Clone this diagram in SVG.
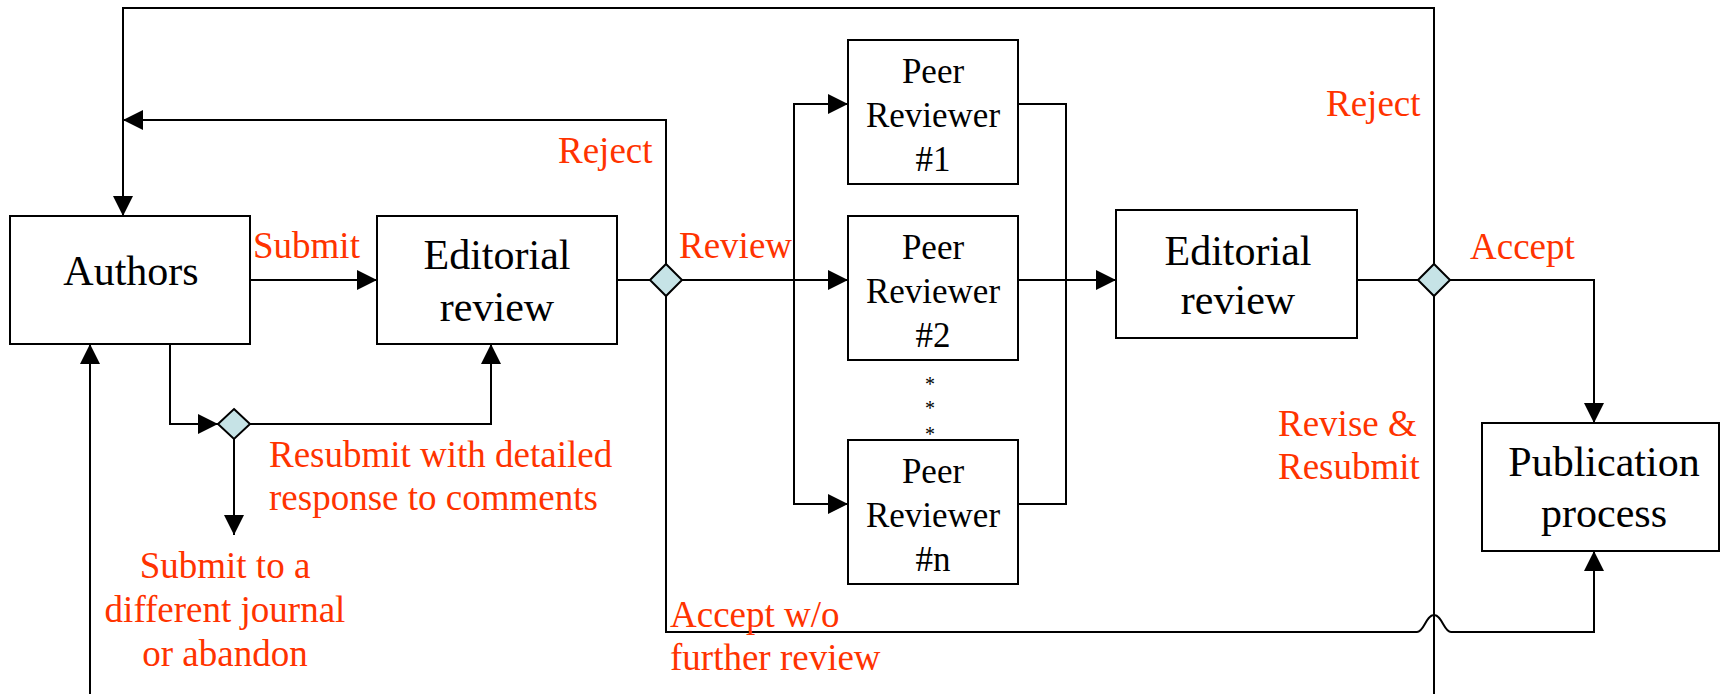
<svg xmlns="http://www.w3.org/2000/svg" width="1721" height="694" viewBox="0 0 1721 694">
<style>
.box{fill:#fff;stroke:#000;stroke-width:2}
.dia{fill:#c6e3e6;stroke:#000;stroke-width:2}
.ln{fill:none;stroke:#000;stroke-width:2}
.t{font-family:"Liberation Serif","Times New Roman",serif;fill:#000}
.big{font-size:42px;text-anchor:middle}
.peer{font-size:35px;text-anchor:middle}
.red{font-family:"Liberation Serif","Times New Roman",serif;fill:#ff3300;font-size:37px}
.ast{font-size:20px;text-anchor:middle}
</style>
<defs>
<marker id="ah" markerUnits="userSpaceOnUse" markerWidth="20" markerHeight="20" viewBox="0 0 20 20" refX="20" refY="10" orient="auto">
<path d="M0,0 L20,10 L0,20 z" fill="#000"/>
</marker>
</defs>
<rect width="1721" height="694" fill="#fff"/>
<g id="connectors">
<path class="ln" d="M1434,264 V8 H123 V216" marker-end="url(#ah)"/>
<path class="ln" d="M666,264 V120 H123" marker-end="url(#ah)"/>
<path class="ln" d="M250,280 H377" marker-end="url(#ah)"/>
<path class="ln" d="M617,280 H650"/>
<path class="ln" d="M682,280 H848" marker-end="url(#ah)"/>
<path class="ln" d="M794,280 V104 H848" marker-end="url(#ah)"/>
<path class="ln" d="M794,280 V504 H848" marker-end="url(#ah)"/>
<path class="ln" d="M1018,104 H1066 V504 H1018"/>
<path class="ln" d="M1018,280 H1116" marker-end="url(#ah)"/>
<path class="ln" d="M1357,280 H1418"/>
<path class="ln" d="M1450,280 H1594 V423" marker-end="url(#ah)"/>
<path class="ln" d="M1434,296 V694"/>
<path class="ln" d="M666,296 V632 H1417 C1424,632 1426,615 1434,615 C1442,615 1444,632 1451,632 H1594 V551" marker-end="url(#ah)"/>
<path class="ln" d="M90,694 V344" marker-end="url(#ah)"/>
<path class="ln" d="M170,344 V424 H218" marker-end="url(#ah)"/>
<path class="ln" d="M250,424 H491 V344" marker-end="url(#ah)"/>
<path class="ln" d="M234,439 V535" marker-end="url(#ah)"/>
</g>
<g id="authors">
<rect class="box" x="10" y="216" width="240" height="128"/>
<text class="t big" x="131" y="285">Authors</text>
</g>
<g id="editorial1">
<rect class="box" x="377" y="216" width="240" height="128"/>
<text class="t big" x="497" y="269">Editorial</text>
<text class="t big" x="497" y="321">review</text>
</g>
<g id="peer1">
<rect class="box" x="848" y="40" width="170" height="144"/>
<text class="t peer" x="933" y="83">Peer</text>
<text class="t peer" x="933" y="127">Reviewer</text>
<text class="t peer" x="933" y="171">#1</text>
</g>
<g id="peer2">
<rect class="box" x="848" y="216" width="170" height="144"/>
<text class="t peer" x="933" y="259">Peer</text>
<text class="t peer" x="933" y="303">Reviewer</text>
<text class="t peer" x="933" y="347">#2</text>
</g>
<g id="ellipsis">
<text class="t ast" x="930" y="391">*</text>
<text class="t ast" x="930" y="415">*</text>
<text class="t ast" x="930" y="441">*</text>
</g>
<g id="peern">
<rect class="box" x="848" y="440" width="170" height="144"/>
<text class="t peer" x="933" y="483">Peer</text>
<text class="t peer" x="933" y="527">Reviewer</text>
<text class="t peer" x="933" y="571">#n</text>
</g>
<g id="editorial2">
<rect class="box" x="1116" y="210" width="241" height="128"/>
<text class="t big" x="1238" y="265">Editorial</text>
<text class="t big" x="1238" y="314">review</text>
</g>
<g id="publication">
<rect class="box" x="1482" y="423" width="237" height="128"/>
<text class="t big" x="1604" y="476">Publication</text>
<text class="t big" x="1604" y="527">process</text>
</g>
<g id="decision1"><path class="dia" d="M666,264 L682,280 L666,296 L650,280 z"/></g>
<g id="decision2"><path class="dia" d="M1434,264 L1450,280 L1434,296 L1418,280 z"/></g>
<g id="decision3"><path class="dia" d="M234,409 L250,424 L234,439 L218,424 z"/></g>
<g id="labels">
<text class="red" x="253" y="258">Submit</text>
<text class="red" x="558" y="163">Reject</text>
<text class="red" x="679" y="258">Review</text>
<text class="red" x="1326" y="116">Reject</text>
<text class="red" x="1470" y="259">Accept</text>
<text class="red" x="1278" y="436">Revise &amp;</text>
<text class="red" x="1278" y="479">Resubmit</text>
<text class="red" x="269" y="467">Resubmit with detailed</text>
<text class="red" x="269" y="510">response to comments</text>
<text class="red" x="225" y="578" text-anchor="middle">Submit to a</text>
<text class="red" x="225" y="622" text-anchor="middle">different journal</text>
<text class="red" x="225" y="666" text-anchor="middle">or abandon</text>
<text class="red" x="670" y="627">Accept w/o</text>
<text class="red" x="670" y="670">further review</text>
</g>
</svg>
